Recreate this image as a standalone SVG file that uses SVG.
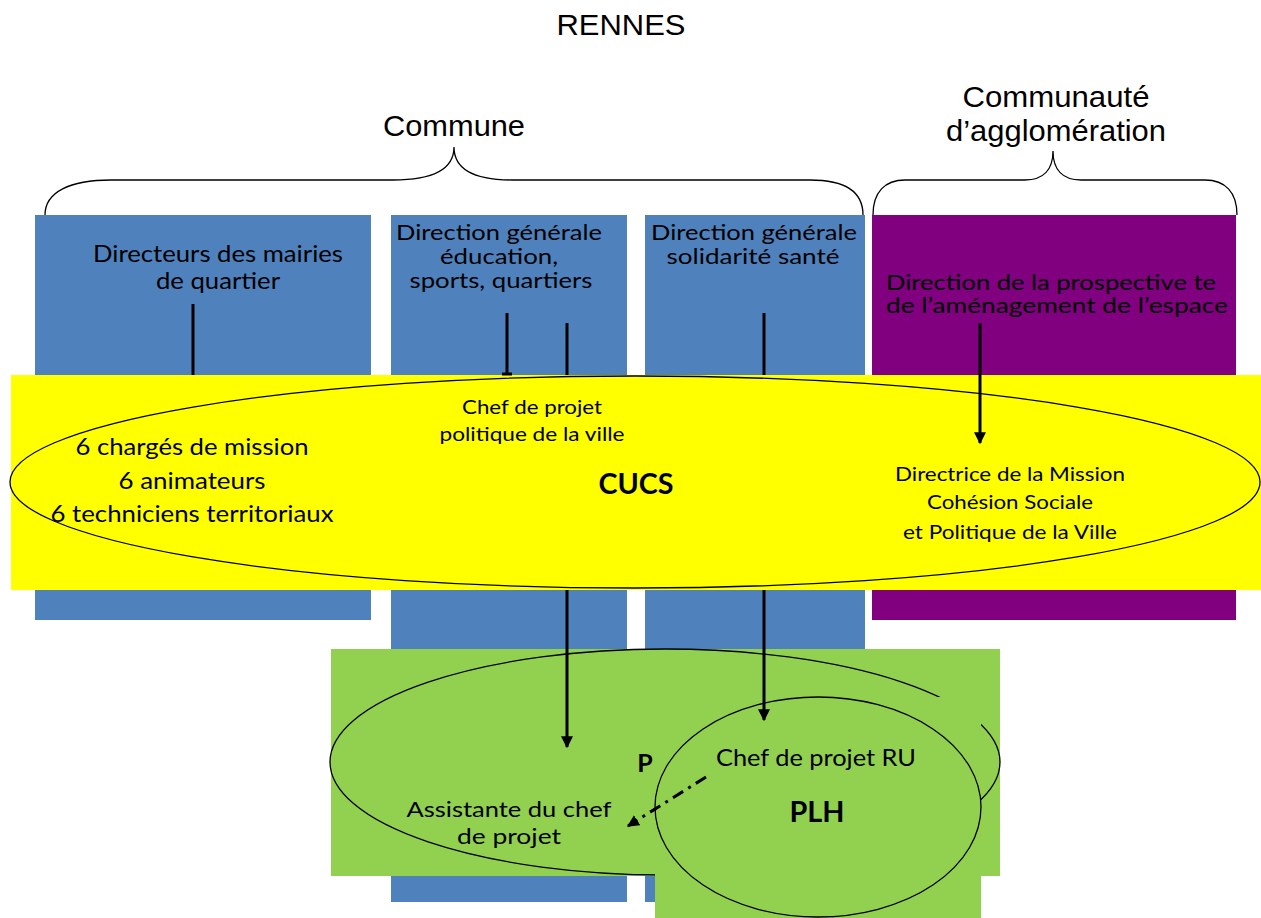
<svg xmlns="http://www.w3.org/2000/svg" width="1261" height="918" viewBox="0 0 1261 918">
<style>
.ar{font-family:"Liberation Sans",Arial,sans-serif;fill:#000;text-anchor:middle}
.cb{font-family:"Lato","Liberation Sans",sans-serif;fill:#000;text-anchor:middle}
.blue{fill:#4F81BD}
.brace{fill:none;stroke:#000;stroke-width:1.3}
.ell{stroke:#000;stroke-width:1.3}
.ln{stroke:#000;stroke-width:3;fill:none}
</style>
<defs>
<marker id="ah" viewBox="0 0 10 10" refX="9" refY="5" markerWidth="4" markerHeight="4" orient="auto" markerUnits="strokeWidth">
<path d="M0,0 L10,5 L0,10 z" fill="#000"/>
</marker>
</defs>
<rect width="1261" height="918" fill="#fff"/>
<g id="titles">
<text class="ar" x="621" y="35" font-size="29" textLength="129" lengthAdjust="spacingAndGlyphs">RENNES</text>
<text class="ar" x="454" y="136" font-size="30" textLength="142" lengthAdjust="spacingAndGlyphs">Commune</text>
<text class="ar" x="1056" y="107" font-size="30" textLength="187" lengthAdjust="spacingAndGlyphs">Communauté</text>
<text class="ar" x="1056" y="141" font-size="30" textLength="220" lengthAdjust="spacingAndGlyphs">d’agglomération</text>
<path class="brace" d="M45,215 C45,192 70,180 111,180 L393,180 C432,180 454,170 454,147 C454,170 476,180 512,180 L810,180 C845,180 863,192 863,215"/>
<path class="brace" d="M873,215 C873,192 885,180 905,180 L1025,180 C1043,180 1053,170 1053,151 C1053,170 1063,180 1081,180 L1205,180 C1225,180 1237,192 1237,215"/>
</g>
<g id="box-mairies">
<rect class="blue" x="35" y="215" width="336" height="405"/>
<text class="cb" font-size="23" x="218" y="262" textLength="250" lengthAdjust="spacingAndGlyphs">Directeurs des mairies</text>
<text class="cb" font-size="23" x="218" y="289" textLength="124" lengthAdjust="spacingAndGlyphs">de quartier</text>
</g>
<g id="box-education">
<rect class="blue" x="391" y="215" width="236" height="687"/>
<text class="cb" font-size="21" x="499" y="240" textLength="206" lengthAdjust="spacingAndGlyphs">Direction générale</text>
<text class="cb" font-size="21" x="499" y="264" textLength="118" lengthAdjust="spacingAndGlyphs">éducation,</text>
<text class="cb" font-size="21" x="501" y="288" textLength="183" lengthAdjust="spacingAndGlyphs">sports, quartiers</text>
</g>
<g id="box-solidarite">
<rect class="blue" x="645" y="215" width="220" height="687"/>
<text class="cb" font-size="21" x="754" y="240" textLength="206" lengthAdjust="spacingAndGlyphs">Direction générale</text>
<text class="cb" font-size="21" x="753" y="264" textLength="173" lengthAdjust="spacingAndGlyphs">solidarité santé</text>
</g>
<g id="box-prospective">
<rect x="872" y="215" width="364" height="405" fill="#800080"/>
<text class="cb" font-size="21" x="1051" y="290" textLength="330" lengthAdjust="spacingAndGlyphs">Direction de la prospective te</text>
<text class="cb" font-size="21" x="1057" y="313" textLength="342" lengthAdjust="spacingAndGlyphs">de l’aménagement de l’espace</text>
</g>
<g id="cucs">
<rect x="11" y="375" width="1250" height="215" fill="#FFFF00"/>
<ellipse class="ell" cx="635" cy="482" rx="625" ry="106" fill="#FFFF00"/>
<text class="cb" font-size="20" x="532" y="414" textLength="140" lengthAdjust="spacingAndGlyphs">Chef de projet</text>
<text class="cb" font-size="20" x="532" y="441" textLength="185" lengthAdjust="spacingAndGlyphs">politique de la ville</text>
<text class="cb" font-size="23" x="192" y="455" textLength="233" lengthAdjust="spacingAndGlyphs">6 chargés de mission</text>
<text class="cb" font-size="23" x="192" y="489" textLength="147" lengthAdjust="spacingAndGlyphs">6 animateurs</text>
<text class="cb" font-size="23" x="192" y="522" textLength="283" lengthAdjust="spacingAndGlyphs">6 techniciens territoriaux</text>
<text class="cb" font-size="28" font-weight="bold" x="636" y="494" textLength="75" lengthAdjust="spacingAndGlyphs">CUCS</text>
<text class="cb" font-size="20" x="1010" y="481" textLength="230" lengthAdjust="spacingAndGlyphs">Directrice de la Mission</text>
<text class="cb" font-size="20" x="1010" y="509" textLength="166" lengthAdjust="spacingAndGlyphs">Cohésion Sociale</text>
<text class="cb" font-size="20" x="1010" y="539" textLength="214" lengthAdjust="spacingAndGlyphs">et Politique de la Ville</text>
</g>
<g id="projet">
<rect x="331" y="649" width="669" height="227" fill="#92D050"/>
<ellipse class="ell" cx="665" cy="762" rx="335" ry="113" fill="#92D050"/>
<text class="cb" font-size="25" font-weight="bold" x="645" y="772">P</text>
<text class="cb" font-size="22" x="509" y="817" textLength="205" lengthAdjust="spacingAndGlyphs">Assistante du chef</text>
<text class="cb" font-size="22" x="509" y="844" textLength="104" lengthAdjust="spacingAndGlyphs">de projet</text>
</g>
<g id="plh">
<rect x="655" y="697" width="326" height="221" fill="#92D050"/>
<ellipse class="ell" cx="818" cy="807" rx="163" ry="110" fill="#92D050"/>
<text class="cb" font-size="23" x="816" y="766" textLength="200" lengthAdjust="spacingAndGlyphs">Chef de projet RU</text>
<text class="cb" font-size="28" font-weight="bold" x="817" y="822" textLength="55" lengthAdjust="spacingAndGlyphs">PLH</text>
</g>
<g id="connectors">
<line class="ln" x1="193" y1="304" x2="193" y2="375"/>
<line class="ln" x1="507" y1="313" x2="507" y2="375"/>
<line class="ln" x1="502" y1="374" x2="512" y2="374" stroke-width="2"/>
<line class="ln" x1="567" y1="323" x2="567" y2="375"/>
<line class="ln" x1="764" y1="313" x2="764" y2="375"/>
<line class="ln" x1="980" y1="323" x2="980" y2="443" stroke-width="2" marker-end="url(#ah)"/>
<line class="ln" x1="567" y1="590" x2="567" y2="747" stroke-width="2" marker-end="url(#ah)"/>
<line class="ln" x1="764" y1="590" x2="764" y2="720" stroke-width="2" marker-end="url(#ah)"/>
<line class="ln" x1="706" y1="777" x2="628" y2="826" stroke-width="3" stroke-dasharray="12,6,3,6" marker-end="url(#ah)"/>
</g>
</svg>
